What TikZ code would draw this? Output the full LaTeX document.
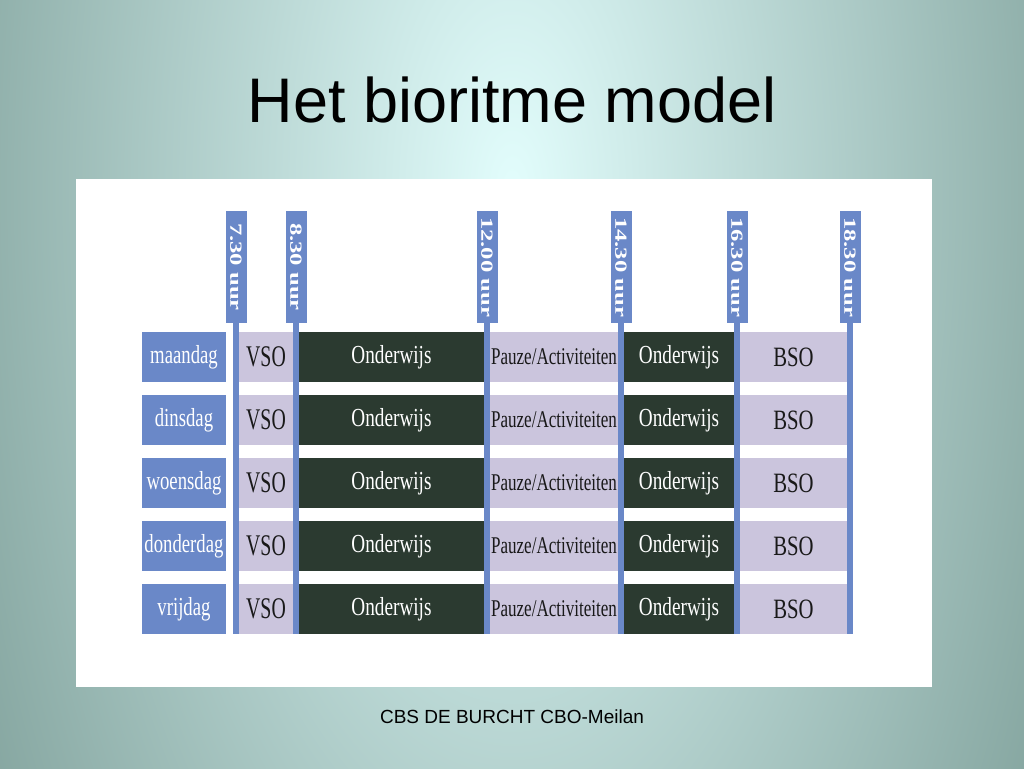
\documentclass[tikz,border=0pt]{standalone}
\usepackage{graphicx}
\usepackage{fontspec}
\setmainfont{Liberation Serif}
\newfontfamily\schreef{Liberation Sans}
\usetikzlibrary{positioning}
\definecolor{dagblauw}{HTML}{6A88C8}
\definecolor{lila}{HTML}{CBC5DD}
\definecolor{donker}{HTML}{2B3A30}
\definecolor{bglicht}{HTML}{E2FDFC}
\definecolor{bgdonker}{HTML}{5A7D75}
\newcommand{\smal}[2][0.74]{\scalebox{#1}[1]{#2}}
\newcommand{\rek}[1]{\scalebox{1.45}[1]{#1}}
\tikzset{
	blok/.style = {inner sep=0, outer sep=0, minimum height=50pt},
	dag/.style = {blok, fill=dagblauw, text=white, minimum width=84pt, font=\fontsize{26}{26}\selectfont},
	vso/.style = {blok, fill=lila, text=black!90, minimum width=54pt, font=\fontsize{30}{30}\selectfont},
	les/.style = {blok, fill=donker, text=white, font=\fontsize{26}{26}\selectfont},
	pauze/.style = {blok, fill=lila, text=black!90, minimum width=128pt, font=\fontsize{24}{24}\selectfont},
	bso/.style = {blok, fill=lila, text=black!90, minimum width=107pt, font=\fontsize{28}{28}\selectfont},
	tijd/.style = {inner sep=0, outer sep=0, fill=dagblauw, text=white, minimum width=112pt, minimum height=21pt, rotate=-90, font=\bfseries\fontsize{17}{17}\selectfont},
	paal/.style = {draw=dagblauw, line width=6pt}
}
\begin{document}
\begin{tikzpicture}[x=1pt, y=-1pt]
	\useasboundingbox (0,0) rectangle (1024,768);
	% achtergrond
	\fill[bgdonker] (0,0) rectangle (1024,768);
	\begin{scope}
		\clip (0,0) rectangle (1024,768);
		\shade[inner color=bglicht, outer color=bgdonker] (512,190) ellipse (880 and 1800);
	\end{scope}
	\node[font=\schreef\fontsize{63}{63}\selectfont] (titel) at (512,100) {Het bioritme model};
	\fill[white] (76,179) rectangle (932,687);
	\node[font=\schreef\fontsize{19}{19}\selectfont] (voet) at (512,717) {CBS DE BURCHT CBO-Meilan};
	
	\node [dag] (ma) at (184,357) {\smal[0.72]{maandag}};
	\node [vso, right=13pt of ma] (ma1) {\smal[0.66]{VSO}};
	\node [les, minimum width=185pt, right=6pt of ma1] (ma2) {\smal{Onderwijs}};
	\node [pauze, right=6pt of ma2] (ma3) {\smal[0.71]{Pauze/Activiteiten}};
	\node [les, minimum width=110pt, right=6pt of ma3] (ma4) {\smal{Onderwijs}};
	\node [bso, right=6pt of ma4] (ma5) {\smal{BSO}};
	
	\node [dag, below=13pt of ma] (di) {\smal[0.72]{dinsdag}};
	\node [vso, right=13pt of di] (di1) {\smal[0.66]{VSO}};
	\node [les, minimum width=185pt, right=6pt of di1] (di2) {\smal{Onderwijs}};
	\node [pauze, right=6pt of di2] (di3) {\smal[0.71]{Pauze/Activiteiten}};
	\node [les, minimum width=110pt, right=6pt of di3] (di4) {\smal{Onderwijs}};
	\node [bso, right=6pt of di4] (di5) {\smal{BSO}};
	
	\node [dag, below=13pt of di] (wo) {\smal[0.72]{woensdag}};
	\node [vso, right=13pt of wo] (wo1) {\smal[0.66]{VSO}};
	\node [les, minimum width=185pt, right=6pt of wo1] (wo2) {\smal{Onderwijs}};
	\node [pauze, right=6pt of wo2] (wo3) {\smal[0.71]{Pauze/Activiteiten}};
	\node [les, minimum width=110pt, right=6pt of wo3] (wo4) {\smal{Onderwijs}};
	\node [bso, right=6pt of wo4] (wo5) {\smal{BSO}};
	
	\node [dag, below=13pt of wo] (do) {\smal[0.72]{donderdag}};
	\node [vso, right=13pt of do] (do1) {\smal[0.66]{VSO}};
	\node [les, minimum width=185pt, right=6pt of do1] (do2) {\smal{Onderwijs}};
	\node [pauze, right=6pt of do2] (do3) {\smal[0.71]{Pauze/Activiteiten}};
	\node [les, minimum width=110pt, right=6pt of do3] (do4) {\smal{Onderwijs}};
	\node [bso, right=6pt of do4] (do5) {\smal{BSO}};
	
	\node [dag, below=13pt of do] (vr) {\smal[0.72]{vrijdag}};
	\node [vso, right=13pt of vr] (vr1) {\smal[0.66]{VSO}};
	\node [les, minimum width=185pt, right=6pt of vr1] (vr2) {\smal{Onderwijs}};
	\node [pauze, right=6pt of vr2] (vr3) {\smal[0.71]{Pauze/Activiteiten}};
	\node [les, minimum width=110pt, right=6pt of vr3] (vr4) {\smal{Onderwijs}};
	\node [bso, right=6pt of vr4] (vr5) {\smal{BSO}};
	
	% tijdpalen
	\node [tijd] (u730) at (236,267) {\rek{7.30 uur}};
	\node [tijd] (u830) at (296,267) {\rek{8.30 uur}};
	\node [tijd] (u1200) at (487,267) {\rek{12.00 uur}};
	\node [tijd] (u1430) at (621,267) {\rek{14.30 uur}};
	\node [tijd] (u1630) at (737,267) {\rek{16.30 uur}};
	\node [tijd] (u1830) at (850,267) {\rek{18.30 uur}};
	\draw [paal] (u730.east) -- (u730.east |- vr.south);
	\draw [paal] (u830.east) -- (u830.east |- vr.south);
	\draw [paal] (u1200.east) -- (u1200.east |- vr.south);
	\draw [paal] (u1430.east) -- (u1430.east |- vr.south);
	\draw [paal] (u1630.east) -- (u1630.east |- vr.south);
	\draw [paal] (u1830.east) -- (u1830.east |- vr.south);
\end{tikzpicture}
\end{document}
